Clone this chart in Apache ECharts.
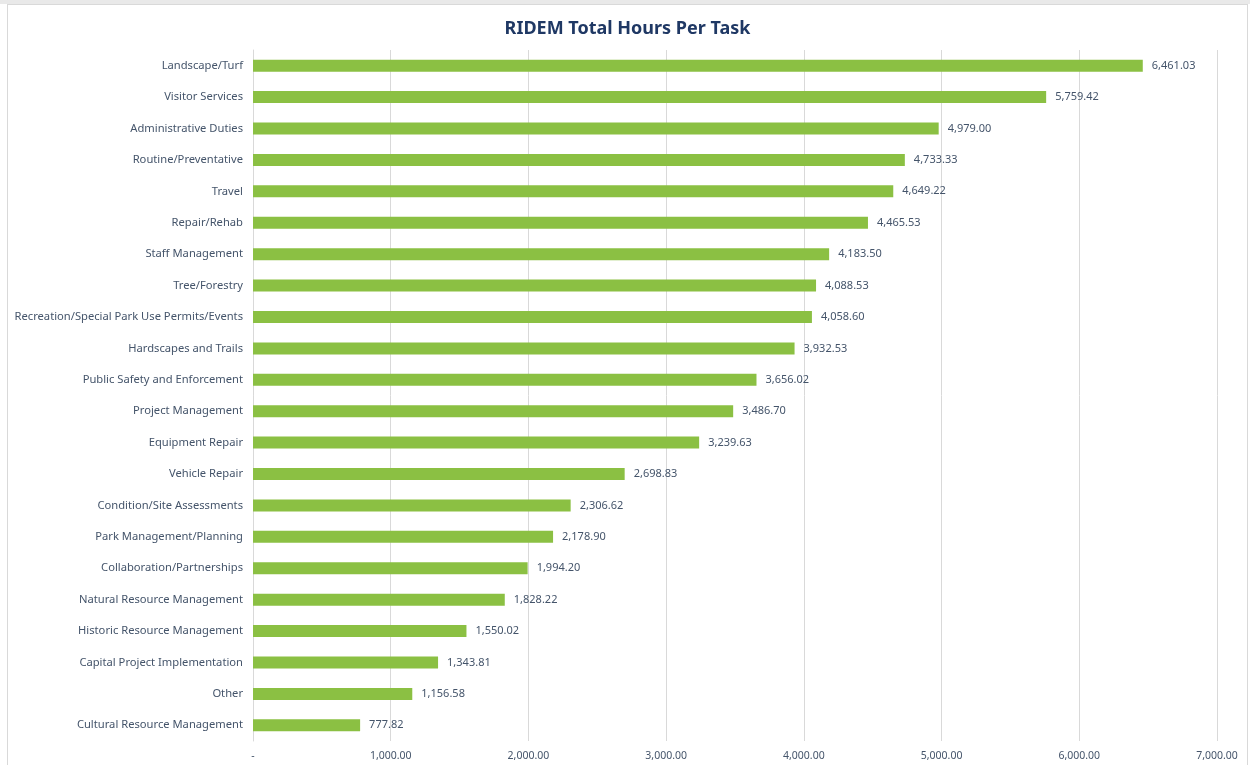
<!DOCTYPE html>
<html><head><meta charset="utf-8">
<script src="https://cdn.jsdelivr.net/npm/echarts@6/dist/echarts.min.js"></script>
<style>
html,body{margin:0;padding:0;background:#fff;}
#topband{position:absolute;left:0;top:0;width:1250px;height:4px;background:#e9e9e9;}
#c{position:absolute;left:7px;top:4px;width:1241px;height:770px;border:1px solid #d9d9d9;box-sizing:border-box;}
</style></head>
<body>
<div id="topband"></div>
<div id="c"></div>
<script>
const categories = ["Landscape/Turf","Visitor Services","Administrative Duties","Routine/Preventative","Travel","Repair/Rehab","Staff Management","Tree/Forestry","Recreation/Special Park Use Permits/Events","Hardscapes and Trails","Public Safety and Enforcement","Project Management","Equipment Repair","Vehicle Repair","Condition/Site Assessments","Park Management/Planning","Collaboration/Partnerships","Natural Resource Management","Historic Resource Management","Capital Project Implementation","Other","Cultural Resource Management"];
const hours = [6461.03,5759.42,4979.00,4733.33,4649.22,4465.53,4183.50,4088.53,4058.60,3932.53,3656.02,3486.70,3239.63,2698.83,2306.62,2178.90,1994.20,1828.22,1550.02,1343.81,1156.58,777.82];
const fmt = v => v.toLocaleString('en-US',{minimumFractionDigits:2,maximumFractionDigits:2});
const chart = echarts.init(document.getElementById('c'));
const txt = '#44546A';
const fontFam = '"Noto Sans", sans-serif';
chart.setOption({
  animation:false,
  title:{text:'RIDEM Total Hours Per Task',left:'center',top:10,textStyle:{color:'#1F3864',fontSize:18,fontWeight:'bold',fontFamily:fontFam}},
  grid:{left:245,right:30,top:45,bottom:32,containLabel:false},
  xAxis:{type:'value',min:0,max:7000,interval:1000,
    axisLine:{show:false},axisTick:{show:false},
    splitLine:{lineStyle:{color:'#d9d9d9',width:1}},
    axisLabel:{color:txt,fontSize:10.5,fontFamily:fontFam,margin:10,formatter:v=>v===0?'-':fmt(v)}},
  yAxis:{type:'category',data:categories,inverse:true,
    axisLine:{show:true,lineStyle:{color:'#d9d9d9'}},axisTick:{show:false},
    axisLabel:{color:txt,fontSize:11.2,fontFamily:fontFam,margin:10}},
  series:[{type:'bar',data:hours,barWidth:12,itemStyle:{color:'#8BC043'},
    label:{show:true,position:'right',distance:9,color:txt,fontSize:11,fontFamily:fontFam,formatter:p=>fmt(p.value)}}]
});
</script>
</body></html>
